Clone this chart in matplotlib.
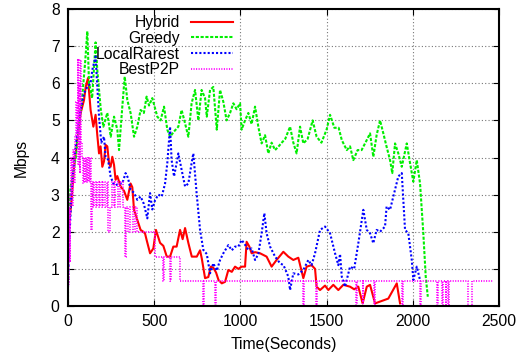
import matplotlib
matplotlib.use("Agg")
import matplotlib.pyplot as plt

plt.rcParams['font.family'] = ['Liberation Sans', 'DejaVu Sans']

# ---- data (time in s, rate in Mbps) ----
hybrid_t = [0, 6, 21, 35, 54, 73, 93, 103, 116, 131, 147, 160, 170, 180, 189, 199, 209,
            218, 228, 238, 247, 257, 267, 276, 286, 305, 325, 344, 363, 373, 383, 402,
            421, 437, 447, 456, 476, 495, 510, 534, 553, 573, 592, 611, 630, 650, 665,
            679, 698, 718, 747, 766, 776, 795, 814, 828, 843, 859, 873, 892, 911, 930,
            950, 969, 988, 1007, 1027, 1036, 1052, 1065, 1085, 1114, 1152, 1181, 1210,
            1249, 1278, 1307, 1336, 1365, 1384, 1413, 1433, 1442, 1462, 1491, 1510,
            1539, 1568, 1597, 1636, 1660, 1684, 1709, 1733, 1752, 1781, 1858, 1907, 1926]
hybrid_v = [1.9, 2.2, 2.86, 3.75, 4.47, 5.19, 5.55, 5.91, 6.14, 5.28, 4.83, 5.15, 4.6,
            4.11, 4.3, 3.75, 3.9, 4.34, 4.3, 3.85, 3.75, 4.02, 3.8, 3.4, 3.5, 3.22, 3.1,
            2.86, 3.3, 3.2, 2.59, 2.32, 2.05, 2.0, 1.95, 1.78, 1.42, 1.55, 2.05, 1.7,
            1.62, 1.33, 1.33, 1.6, 1.6, 2.05, 1.8, 2.1, 1.7, 1.33, 1.33, 1.5, 1.28, 0.75,
            0.78, 1.06, 1.03, 0.9, 0.7, 0.61, 0.65, 0.97, 0.92, 1.06, 1.0, 1.06, 1.06,
            1.73, 1.6, 1.42, 1.45, 1.42, 1.33, 1.06, 1.24, 1.46, 1.33, 1.24, 1.3, 0.75,
            1.06, 1.1, 1.0, 0.52, 0.43, 0.55, 0.43, 0.57, 0.43, 0.57, 0.52, 0.45, 0.52,
            0.07, 0.52, 0.57, 0.07, 0.2, 0.61, 0.07]

greedy_t = [0, 15, 45, 64, 83, 100, 112, 122, 140, 160, 170, 190, 205, 228, 248, 267,
            286, 296, 315, 329, 344, 363, 383, 402, 421, 440, 456, 470, 489, 518, 537,
            557, 576, 592, 615, 640, 659, 679, 698, 717, 737, 756, 775, 795, 805, 824,
            843, 863, 882, 901, 920, 940, 959, 978, 998, 1007, 1027, 1046, 1065, 1085,
            1104, 1123, 1143, 1162, 1181, 1201, 1220, 1240, 1260, 1288, 1307, 1326,
            1346, 1365, 1390, 1419, 1442, 1470, 1500, 1520, 1545, 1570, 1588, 1617,
            1636, 1655, 1680, 1703, 1733, 1752, 1771, 1790, 1810, 1829, 1848, 1868,
            1881, 1897, 1916, 1936, 1965, 1984, 2003, 2023, 2042, 2061, 2075, 2087]
greedy_v = [2.05, 3.2, 4.0, 4.9, 5.65, 6.6, 7.4, 6.0, 5.6, 7.1, 6.35, 5.3, 4.83, 5.2,
            4.56, 5.1, 4.75, 4.2, 5.37, 6.18, 5.55, 5.2, 4.56, 4.83, 5.28, 5.2, 5.64,
            5.4, 5.6, 5.1, 5.0, 5.37, 4.75, 4.56, 4.7, 4.83, 5.28, 4.92, 4.56, 5.46,
            5.82, 5.0, 5.82, 5.6, 5.1, 5.82, 5.9, 4.75, 5.82, 5.5, 5.0, 5.2, 5.46, 5.3,
            5.46, 4.75, 5.0, 5.2, 4.9, 5.37, 4.83, 4.38, 4.6, 4.11, 4.4, 4.2, 4.29, 4.4,
            4.5, 4.83, 4.4, 4.11, 4.83, 4.38, 4.5, 5.0, 4.56, 4.4, 4.75, 5.15, 4.8, 4.8,
            4.47, 4.2, 4.3, 3.93, 4.2, 4.2, 4.47, 4.65, 4.02, 4.6, 5.0, 4.65, 4.29, 3.93,
            3.58, 4.38, 4.11, 3.75, 4.38, 3.85, 3.35, 3.93, 3.3, 1.96, 0.79, 0.25]

rarest_t = [0, 5, 21, 35, 54, 73, 93, 112, 131, 141, 160, 170, 180, 193, 209, 218, 232,
            247, 263, 276, 296, 315, 334, 348, 363, 383, 402, 421, 440, 460, 476, 489,
            505, 524, 544, 563, 576, 592, 601, 615, 630, 640, 659, 679, 698, 717, 727,
            746, 766, 785, 805, 824, 843, 863, 882, 901, 930, 950, 969, 988, 1007, 1027,
            1046, 1065, 1085, 1104, 1123, 1139, 1152, 1172, 1201, 1230, 1250, 1278,
            1288, 1307, 1336, 1365, 1394, 1413, 1433, 1462, 1491, 1520, 1549, 1568,
            1578, 1588, 1607, 1636, 1660, 1684, 1713, 1733, 1752, 1771, 1790, 1810,
            1839, 1848, 1868, 1887, 1916, 1936, 1955, 1974, 1994, 2003, 2023, 2042]
rarest_v = [0.5, 1.5, 3.13, 3.93, 4.65, 5.28, 5.73, 5.9, 5.99, 6.36, 6.72, 5.9, 5.1,
            4.4, 4.56, 4.02, 3.95, 3.49, 3.3, 3.25, 3.3, 3.3, 3.58, 3.45, 3.13, 3.05,
            2.86, 2.95, 2.75, 2.36, 3.04, 2.6, 2.85, 3.0, 2.95, 3.3, 3.85, 4.83, 3.93,
            3.49, 3.85, 4.11, 3.67, 3.22, 3.3, 3.85, 4.11, 3.04, 2.05, 1.51, 1.4, 0.88,
            1.15, 0.95, 1.24, 1.42, 1.64, 1.5, 1.6, 1.6, 1.78, 1.65, 1.51, 1.55, 1.24,
            1.4, 1.96, 2.5, 1.96, 1.6, 1.33, 1.15, 1.1, 0.79, 0.43, 0.88, 0.85, 0.97,
            1.24, 1.1, 1.42, 2.05, 2.14, 1.96, 1.42, 1.1, 1.4, 0.79, 0.52, 1.06, 1.0,
            1.69, 2.59, 2.05, 1.96, 1.69, 2.05, 2.0, 2.14, 2.68, 2.59, 2.95, 3.49, 3.58,
            2.05, 1.96, 1.24, 0.7, 1.06, 0.7]

# BestP2P is a step series (value holds until the next time)
best_t = [0, 4, 10, 14, 20, 25, 30, 36, 42, 47, 52, 56, 60, 64, 68, 72, 77, 82, 87, 92,
          98, 104, 110, 116, 122, 128, 132, 137, 145, 152, 160, 170, 178, 185, 195, 205,
          215, 225, 234, 244, 255, 265, 275, 290, 300, 321, 331, 336, 350, 360, 375,
          390, 400, 505, 553, 557, 592, 596, 650, 785, 789, 853, 857, 1365, 1369, 1439,
          1443, 1671, 1675, 1709, 1713, 1775, 1779, 1936, 1945, 2042, 2046, 2139, 2148,
          2168, 2177, 2190, 2194, 2205, 2209, 2322, 2341, 2467]
best_v = [0.6, 2.6, 1.2, 3.0, 4.0, 2.7, 4.2, 3.3, 4.6, 5.5, 4.5, 6.63, 3.8, 6.0, 3.6,
          6.63, 4.4, 4.0, 3.3, 4.0, 3.35, 4.0, 3.35, 4.02, 3.35, 4.0, 2.05, 3.33, 2.68,
          3.33, 2.68, 3.33, 2.68, 3.33, 2.68, 3.33, 2.68, 3.33, 2.0, 2.68, 3.33, 2.68,
          3.33, 2.68, 3.33, 2.68, 1.33, 2.68, 2.0, 2.68, 2.0, 2.68, 2.0, 1.33, 0.66,
          1.33, 0.66, 1.33, 0.66, 0, 0.66, 0, 0.66, 0, 0.66, 0, 0.66, 0, 0.66, 0, 0.66,
          0, 0.66, 0, 0.66, 0, 0.66, 0, 0.66, 0, 0.66, 0, 0.66, 0, 0.66, 0, 0.66, 0.66]

fig = plt.figure(figsize=(5.21, 3.6), dpi=100)
ax = fig.add_axes([68/521, 1 - 306/360, 431/521, 297/360])

ax.plot(hybrid_t, hybrid_v, color='#ff0000', lw=1.5, label='Hybrid')
ax.plot(greedy_t, greedy_v, color='#00ee00', lw=1.5, dashes=(1.5, 0.8), label='Greedy')
ax.plot(rarest_t, rarest_v, color='#0000ff', lw=1.5, dashes=(1.0, 1.0), label='LocalRarest')
ax.plot(best_t, best_v, color='#ff00ff', lw=1.3, dashes=(0.6, 0.8),
        drawstyle='steps-post', label='BestP2P')

ax.set_xlim(0, 2500)
ax.set_ylim(0, 8)
ax.set_xticks(range(0, 2501, 500))
ax.set_yticks(range(0, 9))
ax.grid(True, color='#777777', linestyle=(0, (1, 2)), lw=0.8)
ax.tick_params(direction='in', top=True, right=True, length=4, labelsize=11.3, pad=6)
for s in ax.spines.values():
    s.set_linewidth(1.5)

leg = ax.legend(loc='upper right', bbox_to_anchor=(233/521, 1 - 15/360),
                bbox_transform=fig.transFigure, frameon=False, markerfirst=False,
                fontsize=11.3, handlelength=2.7, handletextpad=0.7, labelspacing=0.05,
                borderpad=0, borderaxespad=0)

fig.text(21.7/521, 1 - 158/360, 'Mbps', rotation=90, ha='center', va='center', fontsize=11.3)
fig.text(283.5/521, 1 - 344/360, 'Time(Seconds)', ha='center', va='center', fontsize=11.3)

fig.savefig('out.png', dpi=100)
